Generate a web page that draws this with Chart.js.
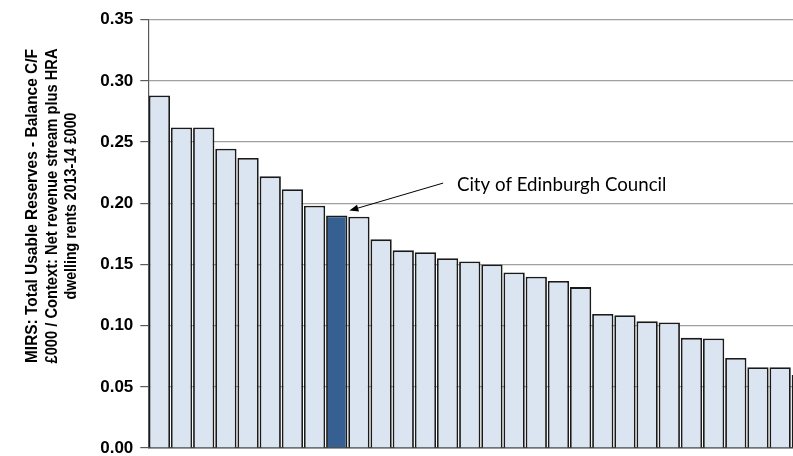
<!DOCTYPE html>
<html>
<head>
<meta charset="utf-8">
<script src="https://cdn.jsdelivr.net/npm/chart.js@4"></script>
<style>
html,body{margin:0;padding:0;background:#fff;overflow:hidden;}
#wrap{position:relative;width:820px;height:480px;}
</style>
</head>
<body>
<div id="wrap"><canvas id="c"></canvas></div>
<script>
// ---- data ----
const categories = [
  "Council 1","Council 2","Council 3","Council 4","Council 5","Council 6","Council 7","Council 8",
  "City of Edinburgh Council",
  "Council 10","Council 11","Council 12","Council 13","Council 14","Council 15","Council 16",
  "Council 17","Council 18","Council 19","Council 20","Council 21","Council 22","Council 23",
  "Council 24","Council 25","Council 26","Council 27","Council 28","Council 29","Council 30"
];
const values = [
  0.288, 0.262, 0.262, 0.2445, 0.237, 0.222, 0.2115, 0.198, 0.190, 0.189,
  0.1705, 0.1615, 0.160, 0.155, 0.1525, 0.150, 0.1435, 0.140, 0.1365, 0.1315,
  0.1095, 0.1085, 0.1035, 0.1025, 0.090, 0.0895, 0.0735, 0.066, 0.066, 0.0597
];
const highlightIndex = 8;
const annotationLabel = "City of Edinburgh Council";
const yTicks = ["0.00","0.05","0.10","0.15","0.20","0.25","0.30","0.35"];
const yTitleLines = [
  "MIRS: Total Usable Reserves - Balance C/F",
  "£000 / Context: Net revenue stream plus HRA",
  "dwelling rents 2013-14 £000"
];

const lightFill = "#dbe5f1";
const darkFill = "#376092";

const yTitlePlugin = {
  id: "yTitle",
  afterDraw(chart) {
    const ctx = chart.ctx, ca = chart.chartArea;
    const cy = ca.top + (ca.bottom - ca.top) * 0.435;
    const baselines = [37, 56.5, 75.5];
    const maxW = [314, 315, 187];
    ctx.save();
    ctx.fillStyle = "#000";
    ctx.font = "bold 17px 'Liberation Sans', Arial, sans-serif";
    ctx.textAlign = "center";
    ctx.textBaseline = "alphabetic";
    yTitleLines.forEach((line, i) => {
      ctx.save();
      ctx.translate(baselines[i], cy);
      ctx.rotate(-Math.PI / 2);
      ctx.fillText(line, 0, 0, maxW[i]);
      ctx.restore();
    });
    ctx.restore();
  }
};

const annotationPlugin = {
  id: "edinAnnotation",
  afterDatasetsDraw(chart) {
    const ctx = chart.ctx;
    const xs = chart.scales.x, ys = chart.scales.y;
    const tipX = xs.getPixelForValue(highlightIndex + 0.57);
    const tipY = ys.getPixelForValue(values[highlightIndex] + 0.004);
    const startX = xs.getPixelForValue(12.8);
    const startY = ys.getPixelForValue(0.2165);
    ctx.save();
    ctx.strokeStyle = "#000";
    ctx.fillStyle = "#000";
    ctx.lineWidth = 1;
    const ang = Math.atan2(tipY - startY, tipX - startX);
    const headLen = 9, headW = 3.5;
    const bx = tipX - headLen * Math.cos(ang), by = tipY - headLen * Math.sin(ang);
    ctx.beginPath();
    ctx.moveTo(startX, startY);
    ctx.lineTo(bx, by);
    ctx.stroke();
    ctx.beginPath();
    ctx.moveTo(tipX, tipY);
    ctx.lineTo(bx + headW * Math.sin(ang), by - headW * Math.cos(ang));
    ctx.lineTo(bx - headW * Math.sin(ang), by + headW * Math.cos(ang));
    ctx.closePath();
    ctx.fill();
    ctx.font = "18.7px Lato, 'Open Sans', sans-serif";
    ctx.textAlign = "left";
    ctx.textBaseline = "middle";
    ctx.fillText(annotationLabel, xs.getPixelForValue(13.42), ys.getPixelForValue(0.215));
    ctx.restore();
  }
};

new Chart(document.getElementById("c"), {
  type: "bar",
  data: {
    labels: categories,
    datasets: [{
      data: values,
      backgroundColor: values.map((v, i) => i === highlightIndex ? darkFill : lightFill),
      borderColor: "#1a1a1a",
      borderWidth: 1.8,
      barPercentage: 0.96,
      categoryPercentage: 1.0
    }]
  },
  options: {
    responsive: true,
    maintainAspectRatio: false,
    animation: false,
    devicePixelRatio: 1,
    layout: { padding: { left: 0, right: 6.6, top: 19.7, bottom: 32 } },
    plugins: { legend: { display: false }, tooltip: { enabled: false } },
    scales: {
      x: {
        ticks: { display: false },
        grid: { display: true, color: "rgba(0,0,0,0)", drawTicks: false, drawOnChartArea: false },
        border: { display: true, color: "#4d4d4d", width: 1.5 }
      },
      y: {
        min: 0, max: 0.35,
        afterFit(scale) { scale.width = 148.3; },
        afterBuildTicks(scale) {
          scale.ticks = yTicks.map(t => ({ value: parseFloat(t) }));
        },
        ticks: {
          padding: 7,
          color: "#000",
          font: { family: "'Liberation Sans', Arial, sans-serif", size: 17, weight: "bold" },
          callback: (v) => yTicks.find(t => parseFloat(t) === v) || v.toFixed(2)
        },
        grid: { color: "#a0a0a0", lineWidth: 1.2, tickLength: 8, tickColor: "#595959", drawTicks: true },
        border: { display: true, color: "#595959", width: 1.2 }
      }
    }
  },
  plugins: [yTitlePlugin, annotationPlugin]
});
</script>
</body>
</html>
